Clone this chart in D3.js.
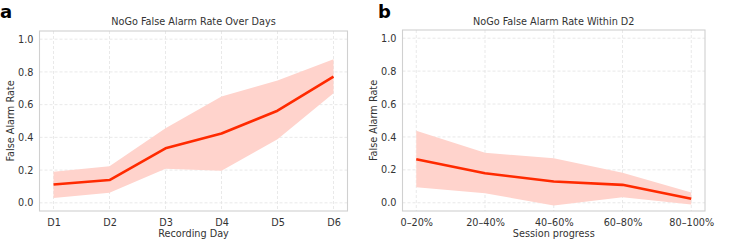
<!DOCTYPE html>
<html>
<head>
<meta charset="utf-8">
<script src="https://cdn.jsdelivr.net/npm/d3@7"></script>
<style>
	body { margin: 0; background: #fff; }
	svg { font-family: 'DejaVu Sans', sans-serif; }
</style>
</head>
<body>
<div id="chart"></div>
<script>
// panel a: across days
const days = ['D1', 'D2', 'D3', 'D4', 'D5', 'D6'];
const daysMean = [0.112, 0.139, 0.333, 0.424, 0.563, 0.771];
const daysUpper = [0.19, 0.224, 0.455, 0.649, 0.747, 0.878];
const daysLower = [0.03, 0.061, 0.208, 0.196, 0.388, 0.669];

// panel b: within D2
const bins = ['0\u201320%', '20\u201340%', '40\u201360%', '60\u201380%', '80\u2013100%'];
const binsMean = [0.264, 0.179, 0.129, 0.109, 0.024];
const binsUpper = [0.4375, 0.304, 0.27, 0.183, 0.0625];
const binsLower = [0.095, 0.058, -0.016, 0.034, -0.01];

const yTicks = [0, 0.2, 0.4, 0.6, 0.8, 1.0];

const lineColor = '#ff2a00';
const bandColor = '#ffd3cc';
const gridColor = '#e3e3e3';
const frameColor = '#d0d0d0';
const textColor = '#333333';
const fontSize = '9.7px';

var svg = d3.select('#chart')
	.append('svg')
	.attr('width', 732)
	.attr('height', 246);

function drawPanel(opts) {
	const {left, right, top, bottom, cats, mean, upper, lower, title, xlabel, letter, letterX} = opts;
	const n = cats.length;

	const x = d3.scaleLinear()
		.domain([-0.05 * (n - 1), (n - 1) * 1.05])
		.range([left, right]);
	const y = d3.scaleLinear()
		.domain([-0.05, 1.05])
		.range([bottom, top]);

	const g = svg.append('g');

	// grid
	g.append('g')
		.selectAll('line')
		.data(yTicks)
		.enter()
		.append('line')
		.attr('x1', left)
		.attr('x2', right)
		.attr('y1', d => y(d))
		.attr('y2', d => y(d))
		.attr('stroke', gridColor)
		.attr('stroke-width', 0.8)
		.attr('stroke-dasharray', '3,2');

	g.append('g')
		.selectAll('line')
		.data(d3.range(n))
		.enter()
		.append('line')
		.attr('x1', d => x(d))
		.attr('x2', d => x(d))
		.attr('y1', top)
		.attr('y2', bottom)
		.attr('stroke', gridColor)
		.attr('stroke-width', 0.8)
		.attr('stroke-dasharray', '3,2');

	// band
	const area = d3.area()
		.x((d, i) => x(i))
		.y0((d, i) => y(lower[i]))
		.y1((d, i) => y(upper[i]));
	g.append('path')
		.datum(cats)
		.attr('d', area)
		.attr('fill', bandColor);

	// mean line
	const line = d3.line()
		.x((d, i) => x(i))
		.y(d => y(d));
	g.append('path')
		.datum(mean)
		.attr('d', line)
		.attr('fill', 'none')
		.attr('stroke', lineColor)
		.attr('stroke-width', 2.6)
		.attr('stroke-linejoin', 'round');

	// frame
	g.append('rect')
		.attr('x', left)
		.attr('y', top)
		.attr('width', right - left)
		.attr('height', bottom - top)
		.attr('fill', 'none')
		.attr('stroke', frameColor)
		.attr('stroke-width', 1.1);

	// y axis
	const yAxis = g.append('g')
		.attr('transform', `translate(${left},0)`)
		.call(d3.axisLeft(y).tickValues(yTicks).tickFormat(d3.format('.1f')).tickSize(0).tickPadding(6));
	yAxis.select('.domain').remove();
	yAxis.selectAll('text')
		.attr('fill', textColor)
		.style('font-size', fontSize)
		.style('font-family', 'DejaVu Sans');

	// x axis
	const xAxis = g.append('g')
		.attr('transform', `translate(0,${bottom})`)
		.call(d3.axisBottom(x).tickValues(d3.range(n)).tickFormat(i => cats[i]).tickSize(0).tickPadding(8));
	xAxis.select('.domain').remove();
	xAxis.selectAll('text')
		.attr('fill', textColor)
		.style('font-size', fontSize)
		.style('font-family', 'DejaVu Sans');

	g.append('text')
		.attr('x', (left + right) / 2)
		.attr('y', 25)
		.attr('text-anchor', 'middle')
		.attr('fill', textColor)
		.style('font-size', fontSize)
		.text(title);

	g.append('text')
		.attr('x', (left + right) / 2)
		.attr('y', bottom + 26)
		.attr('text-anchor', 'middle')
		.attr('fill', textColor)
		.style('font-size', fontSize)
		.text(xlabel);

	g.append('text')
		.attr('transform', `translate(${left - 25.5},${(top + bottom) / 2}) rotate(-90)`)
		.attr('text-anchor', 'middle')
		.attr('fill', textColor)
		.style('font-size', fontSize)
		.text('False Alarm Rate');

	g.append('text')
		.attr('x', letterX)
		.attr('y', 18)
		.attr('fill', '#000')
		.style('font-size', '18px')
		.style('font-weight', 'bold')
		.text(letter);
}

drawPanel({
	left: 39.5, right: 347.5, top: 31, bottom: 211,
	cats: days, mean: daysMean, upper: daysUpper, lower: daysLower,
	title: 'NoGo False Alarm Rate Over Days', xlabel: 'Recording Day', letter: 'a', letterX: 0
});

drawPanel({
	left: 402.5, right: 705, top: 30, bottom: 211,
	cats: bins, mean: binsMean, upper: binsUpper, lower: binsLower,
	title: 'NoGo False Alarm Rate Within D2', xlabel: 'Session progress', letter: 'b', letterX: 378
});
</script>
</body>
</html>
